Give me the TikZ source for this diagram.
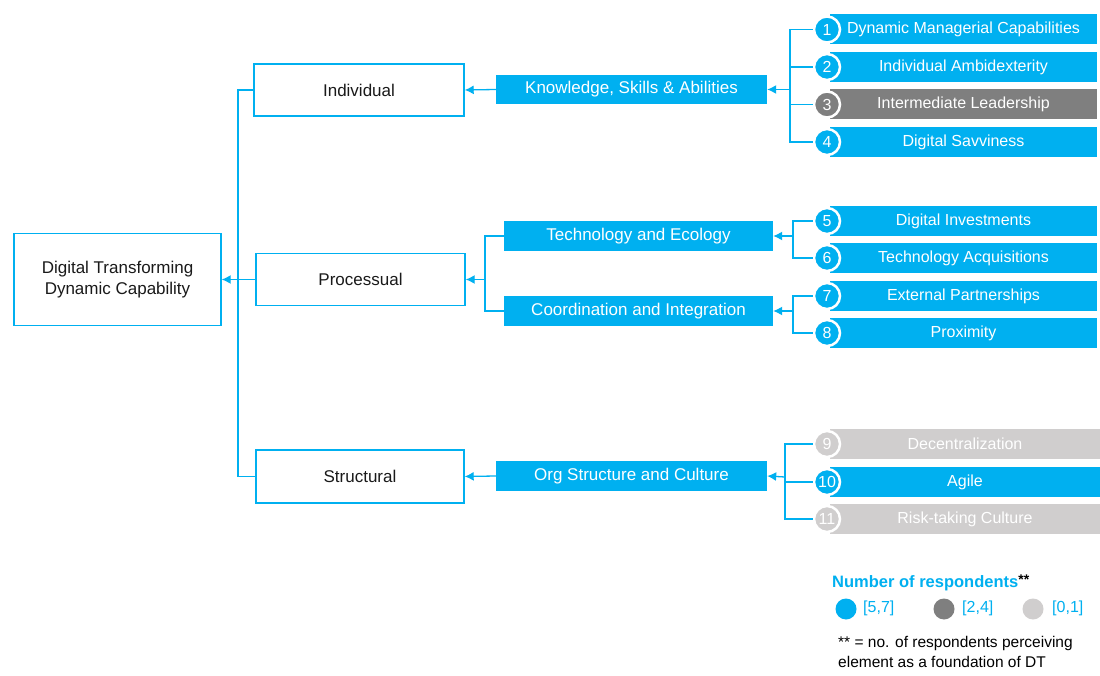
\documentclass[tikz,border=0pt]{standalone}
\usepackage{fontspec}
\setmainfont{Liberation Sans}
\usetikzlibrary{arrows.meta}
\definecolor{dtblue}{HTML}{00B0F0}
\definecolor{dtdark}{HTML}{7F7F7F}
\definecolor{dtlight}{HTML}{D0CECE}
\definecolor{dttext}{HTML}{1A1A1A}
\begin{document}
\begin{tikzpicture}[x=1pt,y=-1pt,
  wbox/.style={draw=dtblue,line width=1.4pt,fill=white,text=dttext,align=center,
    inner sep=0pt,font=\fontsize{17}{21}\selectfont},
  fbox/.style={fill=dtblue,text=white,inner sep=0pt,minimum height=30pt,
    font=\fontsize{17}{21}\selectfont},
  bar/.style={fill=#1,text=white,inner sep=0pt,minimum height=30pt,
    font=\fontsize{16}{20}\selectfont},
  num/.style={circle,fill=#1,draw=white,line width=2.5pt,inner sep=0pt,minimum size=26pt,
    text=white,font=\fontsize{16}{20}\selectfont},
  conn/.style={draw=dtblue,line width=1.3pt},
  arr/.style={conn,-{Latex[length=9pt,width=9pt]}},
  dot/.style={circle,fill=#1,inner sep=0pt,minimum size=21pt},
  legtxt/.style={text=dtblue,inner sep=0pt,anchor=west,font=\fontsize{16}{20}\selectfont}]
\useasboundingbox[fill=white] (0,0) rectangle (1100,676);

% root and the three levels
\node[wbox,minimum width=207pt,minimum height=92pt] (root) at (117.5,279.5)
  {Digital Transforming\\Dynamic Capability};
\node[wbox,minimum width=210pt,minimum height=52pt] (ind) at (359,90) {Individual};
\node[wbox,minimum width=209pt,minimum height=52pt] (pro) at (360.5,279.5) {Processual};
\node[wbox,minimum width=208pt,minimum height=53pt] (str) at (360,476.5) {Structural};

% middle elements
\node[fbox,minimum width=271pt,minimum height=29pt] (ksa) at (631.5,89.5) {Knowledge, Skills \& Abilities};
\node[fbox,minimum width=269pt] (te) at (638.5,236) {Technology and Ecology};
\node[fbox,minimum width=269pt] (ci) at (638.5,311) {Coordination and Integration};
\node[fbox,minimum width=271pt] (osc) at (631.5,476) {Org Structure and Culture};

% numbered foundations
\foreach \k/\y/\c/\t/\r in {
  1/29.5/dtblue/Dynamic Managerial Capabilities/1097,
  2/67/dtblue/Individual Ambidexterity/1097,
  3/104.5/dtdark/Intermediate Leadership/1097,
  4/142/dtblue/Digital Savviness/1097,
  5/221/dtblue/Digital Investments/1097,
  6/258/dtblue/Technology Acquisitions/1097,
  7/296/dtblue/External Partnerships/1097,
  8/333/dtblue/Proximity/1097,
  9/444/dtlight/Decentralization/1100,
  10/482/dtblue/Agile/1100,
  11/519/dtlight/Risk-taking Culture/1100}{
  \node[bar=\c,minimum width=\r pt-830pt] (bar\k) at ({(\r+830)/2},\y) {\t};
  \node[num=\c] (n\k) at (827,\y) {\k};
}

% brackets from foundations to elements
\coordinate (b1) at (790,89.5);
\coordinate (b2) at (793,236);
\coordinate (b3) at (793,311);
\coordinate (b4) at (785,477);
\foreach \k in {1,2,3,4}{\draw[conn] (n\k.west) -| (b1);}
\foreach \k in {5,6}{\draw[conn] (n\k.west) -| (b2);}
\foreach \k in {7,8}{\draw[conn] (n\k.west) -| (b3);}
\foreach \k in {9,10,11}{\draw[conn] (n\k.west) -| (b4);}
\draw[arr] (b1) -- (ksa.east);
\draw[arr] (b2) -- (te.east);
\draw[arr] (b3) -- (ci.east);
\draw[arr] (b4) -- (osc.east);

% elements to levels
\draw[arr] (ksa.west) -- (ind.east);
\draw[arr] (osc.west) -- (str.east);
\coordinate (pb) at (485,279.5);
\draw[conn] (te.west) -| (pb);
\draw[conn] (ci.west) -| (pb);
\draw[arr] (pb) -- (pro.east);

% levels to the root
\coordinate (tr) at (238,279.5);
\draw[conn] (ind.west) -| (tr);
\draw[conn] (str.west) -| (tr);
\draw[conn] (pro.west) -- (tr);
\draw[arr] (tr) -- (root.east);

% legend
\node[anchor=west,inner sep=0pt,font=\fontsize{16.5}{20}\selectfont] (legt) at (832,583)
  {\textcolor{dtblue}{\bfseries Number of respondents}\raisebox{3pt}{\bfseries\fontsize{14}{16}\selectfont **}};
\node[dot=dtblue] (d1) at (846,609) {};
\node[dot=dtdark] (d2) at (944,609) {};
\node[dot=dtlight] (d3) at (1033,609) {};
\node[legtxt] (l1) at (863,608) {[5,7]};
\node[legtxt] (l2) at (962,608) {[2,4]};
\node[legtxt] (l3) at (1052,608) {[0,1]};
\node[anchor=north west,inner sep=0pt,align=left,text=black,
  font=\fontsize{15.5}{20}\selectfont] (foot) at (838,636)
  {** = no. of respondents perceiving\\element as a foundation of DT};
\end{tikzpicture}
\end{document}
